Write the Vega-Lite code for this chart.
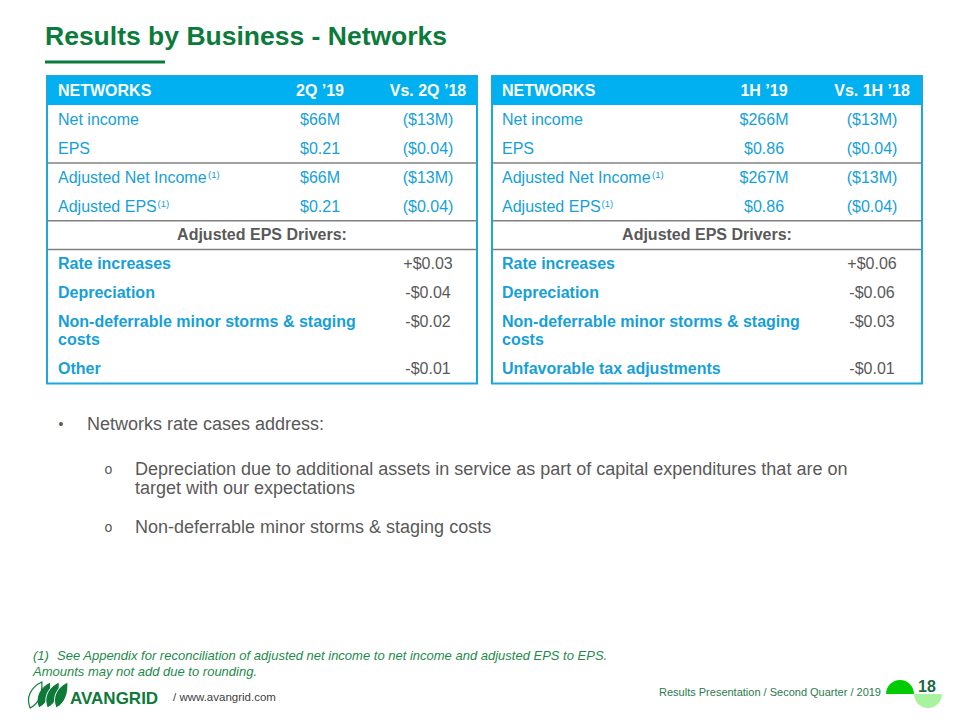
{
  "$schema": "https://vega.github.io/schema/vega-lite/v6.json",
  "width": 960,
  "height": 720,
  "padding": 0,
  "autosize": {"type": "none"},
  "background": "white",
  "config": {"view": {"stroke": null}, "font": "Liberation Sans"},
  "datasets": {
    "tables": [
      {"tbl": "2Q", "left": 0, "right": 5},
      {"tbl": "1H", "left": 6, "right": 11}
    ],
    "dividers": [
      {"tbl": "2Q", "left": 0, "right": 5, "at": 2.5},
      {"tbl": "2Q", "left": 0, "right": 5, "at": 4.5},
      {"tbl": "2Q", "left": 0, "right": 5, "at": 5.5},
      {"tbl": "1H", "left": 6, "right": 11, "at": 2.5},
      {"tbl": "1H", "left": 6, "right": 11, "at": 4.5},
      {"tbl": "1H", "left": 6, "right": 11, "at": 5.5}
    ],
    "cells": [
      {"tbl": "2Q", "line": 0, "col": 1, "style": "headL", "text": "NETWORKS"},
      {"tbl": "2Q", "line": 0, "col": 3, "style": "head", "text": "2Q ’19"},
      {"tbl": "2Q", "line": 0, "col": 4, "style": "head", "text": "Vs. 2Q ’18"},
      {"tbl": "2Q", "line": 1, "col": 1, "style": "label", "text": "Net income"},
      {"tbl": "2Q", "line": 1, "col": 3, "style": "value", "text": "$66M"},
      {"tbl": "2Q", "line": 1, "col": 4, "style": "value", "text": "($13M)"},
      {"tbl": "2Q", "line": 2, "col": 1, "style": "label", "text": "EPS"},
      {"tbl": "2Q", "line": 2, "col": 3, "style": "value", "text": "$0.21"},
      {"tbl": "2Q", "line": 2, "col": 4, "style": "value", "text": "($0.04)"},
      {"tbl": "2Q", "line": 3, "col": 1, "style": "label", "text": "Adjusted Net Income"},
      {"tbl": "2Q", "line": 3, "col": 3, "style": "value", "text": "$66M"},
      {"tbl": "2Q", "line": 3, "col": 4, "style": "value", "text": "($13M)"},
      {"tbl": "2Q", "line": 4, "col": 1, "style": "label", "text": "Adjusted EPS"},
      {"tbl": "2Q", "line": 4, "col": 3, "style": "value", "text": "$0.21"},
      {"tbl": "2Q", "line": 4, "col": 4, "style": "value", "text": "($0.04)"},
      {"tbl": "2Q", "line": 5, "col": 2, "style": "sub", "text": "Adjusted EPS Drivers:"},
      {"tbl": "2Q", "line": 6, "col": 1, "style": "driver", "text": "Rate increases"},
      {"tbl": "2Q", "line": 6, "col": 4, "style": "dval", "text": "+$0.03"},
      {"tbl": "2Q", "line": 7, "col": 1, "style": "driver", "text": "Depreciation"},
      {"tbl": "2Q", "line": 7, "col": 4, "style": "dval", "text": "-$0.04"},
      {"tbl": "2Q", "line": 8, "col": 1, "style": "driver", "text": "Non-deferrable minor storms & staging"},
      {"tbl": "2Q", "line": 8, "col": 4, "style": "dval", "text": "-$0.02"},
      {"tbl": "2Q", "line": 9, "col": 1, "style": "driver", "text": "costs"},
      {"tbl": "2Q", "line": 10, "col": 1, "style": "driver", "text": "Other"},
      {"tbl": "2Q", "line": 10, "col": 4, "style": "dval", "text": "-$0.01"},
      {"tbl": "1H", "line": 0, "col": 7, "style": "headL", "text": "NETWORKS"},
      {"tbl": "1H", "line": 0, "col": 9, "style": "head", "text": "1H ’19"},
      {"tbl": "1H", "line": 0, "col": 10, "style": "head", "text": "Vs. 1H ’18"},
      {"tbl": "1H", "line": 1, "col": 7, "style": "label", "text": "Net income"},
      {"tbl": "1H", "line": 1, "col": 9, "style": "value", "text": "$266M"},
      {"tbl": "1H", "line": 1, "col": 10, "style": "value", "text": "($13M)"},
      {"tbl": "1H", "line": 2, "col": 7, "style": "label", "text": "EPS"},
      {"tbl": "1H", "line": 2, "col": 9, "style": "value", "text": "$0.86"},
      {"tbl": "1H", "line": 2, "col": 10, "style": "value", "text": "($0.04)"},
      {"tbl": "1H", "line": 3, "col": 7, "style": "label", "text": "Adjusted Net Income"},
      {"tbl": "1H", "line": 3, "col": 9, "style": "value", "text": "$267M"},
      {"tbl": "1H", "line": 3, "col": 10, "style": "value", "text": "($13M)"},
      {"tbl": "1H", "line": 4, "col": 7, "style": "label", "text": "Adjusted EPS"},
      {"tbl": "1H", "line": 4, "col": 9, "style": "value", "text": "$0.86"},
      {"tbl": "1H", "line": 4, "col": 10, "style": "value", "text": "($0.04)"},
      {"tbl": "1H", "line": 5, "col": 8, "style": "sub", "text": "Adjusted EPS Drivers:"},
      {"tbl": "1H", "line": 6, "col": 7, "style": "driver", "text": "Rate increases"},
      {"tbl": "1H", "line": 6, "col": 10, "style": "dval", "text": "+$0.06"},
      {"tbl": "1H", "line": 7, "col": 7, "style": "driver", "text": "Depreciation"},
      {"tbl": "1H", "line": 7, "col": 10, "style": "dval", "text": "-$0.06"},
      {"tbl": "1H", "line": 8, "col": 7, "style": "driver", "text": "Non-deferrable minor storms & staging"},
      {"tbl": "1H", "line": 8, "col": 10, "style": "dval", "text": "-$0.03"},
      {"tbl": "1H", "line": 9, "col": 7, "style": "driver", "text": "costs"},
      {"tbl": "1H", "line": 10, "col": 7, "style": "driver", "text": "Unfavorable tax adjustments"},
      {"tbl": "1H", "line": 10, "col": 10, "style": "dval", "text": "-$0.01"}
    ],
    "notes": [
      {"tbl": "2Q", "line": 3, "col": 1, "text": "(1)"},
      {"tbl": "2Q", "line": 4, "col": 1, "text": "(1)"},
      {"tbl": "1H", "line": 3, "col": 7, "text": "(1)"},
      {"tbl": "1H", "line": 4, "col": 7, "text": "(1)"}
    ],
    "bullets": [
      {"line": 0, "level": 1, "marker": "•", "text": "Networks rate cases address:"},
      {"line": 1, "level": 2, "marker": "o", "text": "Depreciation due to additional assets in service as part of capital expenditures that are on"},
      {"line": 2, "level": 2, "marker": "", "text": "target with our expectations"},
      {"line": 3, "level": 2, "marker": "o", "text": "Non-deferrable minor storms & staging costs"}
    ],
    "footnote": [
      {"line": 0, "indent": 0, "text": "(1)"},
      {"line": 0, "indent": 1, "text": "See Appendix for reconciliation of adjusted net income to net income and adjusted EPS to EPS."},
      {"line": 1, "indent": 0, "text": "Amounts may not add due to rounding."}
    ],
    "leaves": [
      {"leaf": 0, "kind": "outline"},
      {"leaf": 1, "kind": "filled"},
      {"leaf": 2, "kind": "filled"},
      {"leaf": 3, "kind": "filled"}
    ],
    "badge": [
      {"half": "top"},
      {"half": "bottom"}
    ]
  },
  "resolve": {"scale": {"x": "independent", "y": "independent", "color": "independent", "shape": "independent"}},
  "layer": [
    {
      "data": {"name": "tables"},
      "mark": {"type": "rect", "fill": "#00B0F0"},
      "encoding": {
        "x": {"field": "left", "type": "quantitative", "axis": null, "scale": {"type": "linear", "domain": [0,1,2,3,4,5,6,7,8,9,10,11], "range": [47,58,262,320,428,477,492,502,707,764,872,922], "nice": false, "zero": false}},
        "x2": {"field": "right"},
        "y": {"datum": -0.5, "type": "quantitative", "axis": null, "scale": {"type": "linear", "domain": [0,1,2,3,4,5,6,7,8,9,10], "range": [90.5,119.5,148.5,177.5,206.5,235,264,292.5,321.5,340,369], "nice": false, "zero": false}},
        "y2": {"datum": 0.5}
      }
    },
    {
      "data": {"name": "tables"},
      "mark": {"type": "rect", "filled": false, "color": "#1BA8E0", "strokeWidth": 2},
      "encoding": {
        "x": {"field": "left", "type": "quantitative", "axis": null, "scale": {"type": "linear", "domain": [0,1,2,3,4,5,6,7,8,9,10,11], "range": [47,58,262,320,428,477,492,502,707,764,872,922], "nice": false, "zero": false}},
        "x2": {"field": "right"},
        "y": {"datum": -0.5, "type": "quantitative", "axis": null, "scale": {"type": "linear", "domain": [0,1,2,3,4,5,6,7,8,9,10], "range": [90.5,119.5,148.5,177.5,206.5,235,264,292.5,321.5,340,369], "nice": false, "zero": false}},
        "y2": {"datum": 10.5}
      }
    },
    {
      "data": {"name": "dividers"},
      "mark": {"type": "rule", "color": "#808080", "strokeWidth": 1.5},
      "encoding": {
        "x": {"field": "left", "type": "quantitative", "axis": null, "scale": {"type": "linear", "domain": [0,1,2,3,4,5,6,7,8,9,10,11], "range": [47,58,262,320,428,477,492,502,707,764,872,922], "nice": false, "zero": false}},
        "x2": {"field": "right"},
        "y": {"field": "at", "type": "quantitative", "axis": null, "scale": {"type": "linear", "domain": [0,1,2,3,4,5,6,7,8,9,10], "range": [90.5,119.5,148.5,177.5,206.5,235,264,292.5,321.5,340,369], "nice": false, "zero": false}}
      }
    },
    {
      "data": {"name": "cells"},
      "transform": [{"filter": "datum.style === 'headL' || datum.style === 'driver'"}],
      "mark": {"type": "text", "align": "left", "baseline": "middle", "font": "Liberation Sans", "fontSize": 16, "fontWeight": "bold"},
      "encoding": {
        "x": {"field": "col", "type": "quantitative", "axis": null, "scale": {"type": "linear", "domain": [0,1,2,3,4,5,6,7,8,9,10,11], "range": [47,58,262,320,428,477,492,502,707,764,872,922], "nice": false, "zero": false}},
        "y": {"field": "line", "type": "quantitative", "axis": null, "scale": {"type": "linear", "domain": [0,1,2,3,4,5,6,7,8,9,10], "range": [90.5,119.5,148.5,177.5,206.5,235,264,292.5,321.5,340,369], "nice": false, "zero": false}},
        "color": {"field": "style", "type": "nominal", "legend": null, "scale": {"domain": ["headL","head","label","value","driver","sub","dval"], "range": ["#FFFFFF","#FFFFFF","#169FD9","#169FD9","#169FD9","#595959","#595959"]}},
        "text": {"field": "text"}
      }
    },
    {
      "data": {"name": "cells"},
      "transform": [{"filter": "datum.style === 'label'"}],
      "mark": {"type": "text", "align": "left", "baseline": "middle", "font": "Liberation Sans", "fontSize": 16},
      "encoding": {
        "x": {"field": "col", "type": "quantitative", "axis": null, "scale": {"type": "linear", "domain": [0,1,2,3,4,5,6,7,8,9,10,11], "range": [47,58,262,320,428,477,492,502,707,764,872,922], "nice": false, "zero": false}},
        "y": {"field": "line", "type": "quantitative", "axis": null, "scale": {"type": "linear", "domain": [0,1,2,3,4,5,6,7,8,9,10], "range": [90.5,119.5,148.5,177.5,206.5,235,264,292.5,321.5,340,369], "nice": false, "zero": false}},
        "color": {"field": "style", "type": "nominal", "legend": null, "scale": {"domain": ["headL","head","label","value","driver","sub","dval"], "range": ["#FFFFFF","#FFFFFF","#169FD9","#169FD9","#169FD9","#595959","#595959"]}},
        "text": {"field": "text"}
      }
    },
    {
      "data": {"name": "notes"},
      "transform": [{"filter": "datum.line === 3"}],
      "mark": {"type": "text", "align": "left", "baseline": "middle", "font": "Liberation Sans", "fontSize": 9.5, "color": "#169FD9", "dx": 150, "dy": -3},
      "encoding": {
        "x": {"field": "col", "type": "quantitative", "axis": null, "scale": {"type": "linear", "domain": [0,1,2,3,4,5,6,7,8,9,10,11], "range": [47,58,262,320,428,477,492,502,707,764,872,922], "nice": false, "zero": false}},
        "y": {"field": "line", "type": "quantitative", "axis": null, "scale": {"type": "linear", "domain": [0,1,2,3,4,5,6,7,8,9,10], "range": [90.5,119.5,148.5,177.5,206.5,235,264,292.5,321.5,340,369], "nice": false, "zero": false}},
        "text": {"field": "text"}
      }
    },
    {
      "data": {"name": "notes"},
      "transform": [{"filter": "datum.line === 4"}],
      "mark": {"type": "text", "align": "left", "baseline": "middle", "font": "Liberation Sans", "fontSize": 9.5, "color": "#169FD9", "dx": 99.5, "dy": -3},
      "encoding": {
        "x": {"field": "col", "type": "quantitative", "axis": null, "scale": {"type": "linear", "domain": [0,1,2,3,4,5,6,7,8,9,10,11], "range": [47,58,262,320,428,477,492,502,707,764,872,922], "nice": false, "zero": false}},
        "y": {"field": "line", "type": "quantitative", "axis": null, "scale": {"type": "linear", "domain": [0,1,2,3,4,5,6,7,8,9,10], "range": [90.5,119.5,148.5,177.5,206.5,235,264,292.5,321.5,340,369], "nice": false, "zero": false}},
        "text": {"field": "text"}
      }
    },
    {
      "data": {"name": "cells"},
      "transform": [{"filter": "datum.style === 'head' || datum.style === 'sub'"}],
      "mark": {"type": "text", "align": "center", "baseline": "middle", "font": "Liberation Sans", "fontSize": 16, "fontWeight": "bold"},
      "encoding": {
        "x": {"field": "col", "type": "quantitative", "axis": null, "scale": {"type": "linear", "domain": [0,1,2,3,4,5,6,7,8,9,10,11], "range": [47,58,262,320,428,477,492,502,707,764,872,922], "nice": false, "zero": false}},
        "y": {"field": "line", "type": "quantitative", "axis": null, "scale": {"type": "linear", "domain": [0,1,2,3,4,5,6,7,8,9,10], "range": [90.5,119.5,148.5,177.5,206.5,235,264,292.5,321.5,340,369], "nice": false, "zero": false}},
        "color": {"field": "style", "type": "nominal", "legend": null, "scale": {"domain": ["headL","head","label","value","driver","sub","dval"], "range": ["#FFFFFF","#FFFFFF","#169FD9","#169FD9","#169FD9","#595959","#595959"]}},
        "text": {"field": "text"}
      }
    },
    {
      "data": {"name": "cells"},
      "transform": [{"filter": "datum.style === 'value' || datum.style === 'dval'"}],
      "mark": {"type": "text", "align": "center", "baseline": "middle", "font": "Liberation Sans", "fontSize": 16},
      "encoding": {
        "x": {"field": "col", "type": "quantitative", "axis": null, "scale": {"type": "linear", "domain": [0,1,2,3,4,5,6,7,8,9,10,11], "range": [47,58,262,320,428,477,492,502,707,764,872,922], "nice": false, "zero": false}},
        "y": {"field": "line", "type": "quantitative", "axis": null, "scale": {"type": "linear", "domain": [0,1,2,3,4,5,6,7,8,9,10], "range": [90.5,119.5,148.5,177.5,206.5,235,264,292.5,321.5,340,369], "nice": false, "zero": false}},
        "color": {"field": "style", "type": "nominal", "legend": null, "scale": {"domain": ["headL","head","label","value","driver","sub","dval"], "range": ["#FFFFFF","#FFFFFF","#169FD9","#169FD9","#169FD9","#595959","#595959"]}},
        "text": {"field": "text"}
      }
    },
    {
      "data": {"values": [{"text": "Results by Business - Networks"}]},
      "mark": {"type": "text", "align": "left", "baseline": "alphabetic", "font": "Liberation Sans", "fontSize": 26.5, "fontWeight": "bold", "color": "#0B7B3B"},
      "encoding": {
        "x": {"datum": 0, "type": "quantitative", "axis": null, "scale": {"domain": [0, 1], "range": [45, 165], "nice": false, "zero": false}},
        "y": {"datum": 0, "type": "quantitative", "axis": null, "scale": {"domain": [0, 1], "range": [45, 62], "nice": false, "zero": false}},
        "text": {"field": "text"}
      }
    },
    {
      "data": {"values": [{}]},
      "mark": {"type": "rule", "color": "#0B7B3B", "strokeWidth": 3},
      "encoding": {
        "x": {"datum": 0, "type": "quantitative", "axis": null, "scale": {"domain": [0, 1], "range": [45, 165], "nice": false, "zero": false}},
        "x2": {"datum": 1},
        "y": {"datum": 1, "type": "quantitative", "axis": null, "scale": {"domain": [0, 1], "range": [45, 62], "nice": false, "zero": false}}
      }
    },
    {
      "data": {"name": "bullets"},
      "mark": {"type": "text", "align": "center", "baseline": "middle", "font": "Liberation Sans", "fontSize": 14, "color": "#595959"},
      "encoding": {
        "x": {"field": "level", "type": "quantitative", "axis": null, "scale": {"domain": [1, 2], "range": [61, 108.5], "nice": false, "zero": false}},
        "y": {"field": "line", "type": "quantitative", "axis": null, "scale": {"domain": [0, 1, 2, 3], "range": [425, 470, 489, 528], "nice": false, "zero": false}},
        "text": {"field": "marker"}
      }
    },
    {
      "data": {"name": "bullets"},
      "mark": {"type": "text", "align": "left", "baseline": "middle", "font": "Liberation Sans", "fontSize": 18, "color": "#595959"},
      "encoding": {
        "x": {"field": "level", "type": "quantitative", "axis": null, "scale": {"domain": [1, 2], "range": [87, 135], "nice": false, "zero": false}},
        "y": {"field": "line", "type": "quantitative", "axis": null, "scale": {"domain": [0, 1, 2, 3], "range": [425, 470, 489, 528], "nice": false, "zero": false}},
        "text": {"field": "text"}
      }
    },
    {
      "data": {"name": "footnote"},
      "mark": {"type": "text", "align": "left", "baseline": "middle", "font": "Liberation Sans", "fontSize": 13, "fontStyle": "italic", "color": "#1E8A4A"},
      "encoding": {
        "x": {"field": "indent", "type": "quantitative", "axis": null, "scale": {"domain": [0, 1], "range": [33, 57], "nice": false, "zero": false}},
        "y": {"field": "line", "type": "quantitative", "axis": null, "scale": {"domain": [0, 1], "range": [656, 672], "nice": false, "zero": false}},
        "text": {"field": "text"}
      }
    },
    {
      "data": {"name": "leaves"},
      "transform": [{"filter": "datum.kind === 'filled'"}],
      "mark": {"type": "point", "filled": true, "shape": "M -0.45 1 C -0.8 0.2 -0.4 -0.6 0.45 -1 C 0.5 -0.2 0.3 0.6 -0.45 1 Z", "size": 676, "color": "#0E7A3A", "stroke": "white", "strokeWidth": 1, "opacity": 1},
      "encoding": {
        "x": {"field": "leaf", "type": "quantitative", "axis": null, "scale": {"domain": [0, 3], "range": [36, 62], "nice": false, "zero": false}},
        "y": {"datum": 0, "type": "quantitative", "axis": null, "scale": {"domain": [0, 1], "range": [695, 696], "nice": false, "zero": false}}
      }
    },
    {
      "data": {"name": "leaves"},
      "transform": [{"filter": "datum.kind === 'outline'"}],
      "mark": {"type": "point", "filled": false, "shape": "M -0.45 1 C -0.8 0.2 -0.4 -0.6 0.45 -1 C 0.5 -0.2 0.3 0.6 -0.45 1 Z", "size": 676, "color": "#0E7A3A", "strokeWidth": 1.2, "opacity": 1},
      "encoding": {
        "x": {"field": "leaf", "type": "quantitative", "axis": null, "scale": {"domain": [0, 3], "range": [36, 62], "nice": false, "zero": false}},
        "y": {"datum": 0, "type": "quantitative", "axis": null, "scale": {"domain": [0, 1], "range": [695, 696], "nice": false, "zero": false}}
      }
    },
    {
      "data": {"values": [{"text": "AVANGRID"}]},
      "mark": {"type": "text", "align": "left", "baseline": "alphabetic", "font": "Liberation Sans", "fontSize": 17, "fontWeight": "bold", "color": "#0E7A3A"},
      "encoding": {
        "x": {"datum": 0, "type": "quantitative", "axis": null, "scale": {"domain": [0, 1], "range": [70, 173], "nice": false, "zero": false}},
        "y": {"datum": 0, "type": "quantitative", "axis": null, "scale": {"domain": [0, 1], "range": [704, 698], "nice": false, "zero": false}},
        "text": {"field": "text"}
      }
    },
    {
      "data": {"values": [{"text": "/ www.avangrid.com"}]},
      "mark": {"type": "text", "align": "left", "baseline": "middle", "font": "Liberation Sans", "fontSize": 11.5, "color": "#404040"},
      "encoding": {
        "x": {"datum": 1, "type": "quantitative", "axis": null, "scale": {"domain": [0, 1], "range": [70, 173], "nice": false, "zero": false}},
        "y": {"datum": 1, "type": "quantitative", "axis": null, "scale": {"domain": [0, 1], "range": [704, 698], "nice": false, "zero": false}},
        "text": {"field": "text"}
      }
    },
    {
      "data": {"values": [{"text": "Results Presentation / Second Quarter / 2019"}]},
      "mark": {"type": "text", "align": "right", "baseline": "middle", "font": "Liberation Sans", "fontSize": 11, "color": "#2A7A4D"},
      "encoding": {
        "x": {"datum": 0, "type": "quantitative", "axis": null, "scale": {"domain": [0, 1], "range": [881, 927], "nice": false, "zero": false}},
        "y": {"datum": 0, "type": "quantitative", "axis": null, "scale": {"domain": [0, 1], "range": [693, 687], "nice": false, "zero": false}},
        "text": {"field": "text"}
      }
    },
    {
      "data": {"name": "badge"},
      "mark": {"type": "point", "filled": true, "size": 784, "opacity": 1, "strokeWidth": 0},
      "encoding": {
        "x": {"field": "half", "type": "nominal", "axis": null, "scale": {"type": "point", "domain": ["top", "bottom"], "range": [900, 928], "padding": 0}},
        "y": {"datum": 0, "type": "quantitative", "axis": null, "scale": {"domain": [0, 1], "range": [694, 695], "nice": false, "zero": false}},
        "shape": {"field": "half", "type": "nominal", "legend": null, "scale": {"domain": ["top", "bottom"], "range": ["M -1 0 C -1 -0.5523 -0.5523 -1 0 -1 C 0.5523 -1 1 -0.5523 1 0 Z", "M -1 0 C -1 0.5523 -0.5523 1 0 1 C 0.5523 1 1 0.5523 1 0 Z"]}},
        "color": {"field": "half", "type": "nominal", "legend": null, "scale": {"domain": ["top", "bottom"], "range": ["#00CC00", "#A8F2A0"]}}
      }
    },
    {
      "data": {"values": [{"text": "18"}]},
      "mark": {"type": "text", "align": "center", "baseline": "middle", "font": "Liberation Sans", "fontSize": 16, "fontWeight": "bold", "color": "#1B6B3F"},
      "encoding": {
        "x": {"datum": 1, "type": "quantitative", "axis": null, "scale": {"domain": [0, 1], "range": [881, 927], "nice": false, "zero": false}},
        "y": {"datum": 1, "type": "quantitative", "axis": null, "scale": {"domain": [0, 1], "range": [693, 687], "nice": false, "zero": false}},
        "text": {"field": "text"}
      }
    }
  ]
}
